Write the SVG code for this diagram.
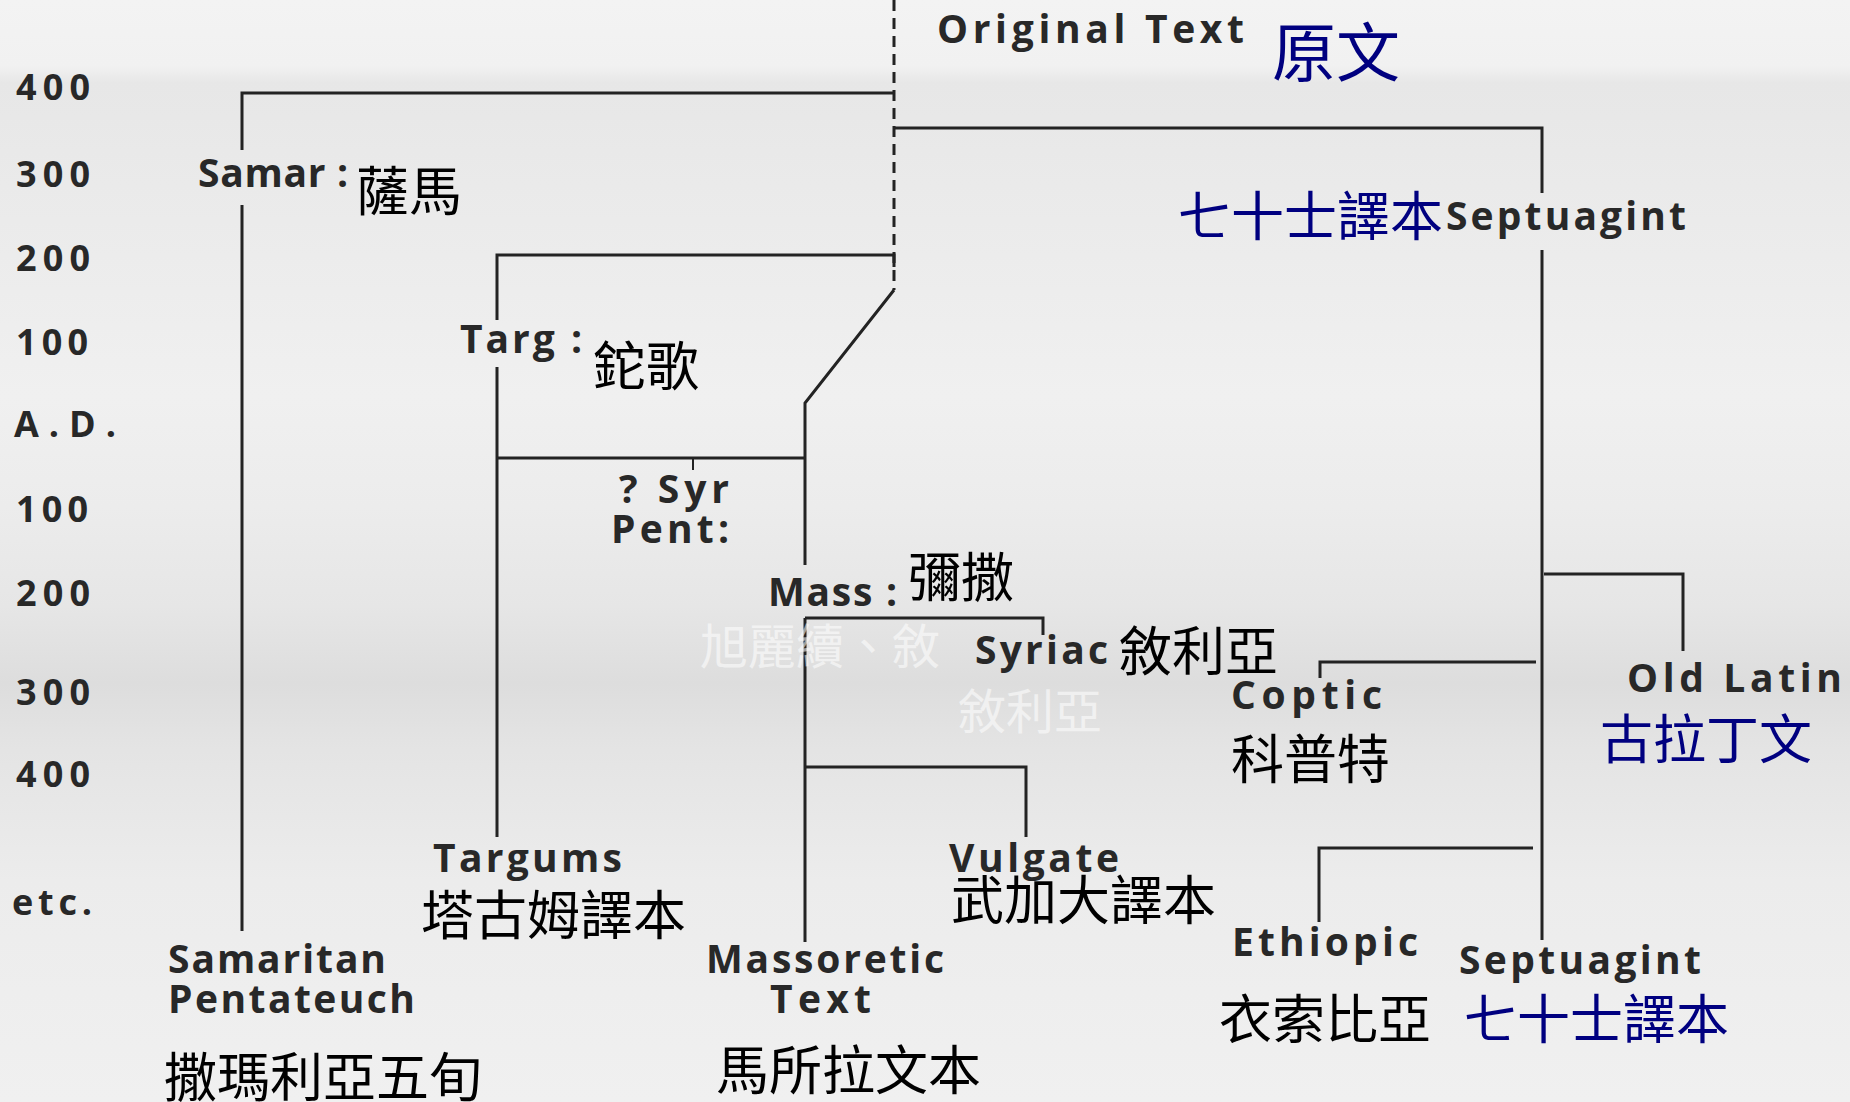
<svg xmlns="http://www.w3.org/2000/svg" width="1850" height="1102" viewBox="0 0 1850 1102">
  <defs>
    <linearGradient id="bg" x1="0" y1="0" x2="0" y2="1">
      <stop offset="0" stop-color="#f3f3f3"/>
      <stop offset="0.06" stop-color="#f1f1f1"/>
      <stop offset="0.075" stop-color="#e7e7e7"/>
      <stop offset="0.2" stop-color="#ebebeb"/>
      <stop offset="0.36" stop-color="#f0f0f0"/>
      <stop offset="0.46" stop-color="#ececec"/>
      <stop offset="0.55" stop-color="#e6e6e6"/>
      <stop offset="0.62" stop-color="#dddddd"/>
      <stop offset="0.68" stop-color="#e4e4e4"/>
      <stop offset="0.8" stop-color="#ececec"/>
      <stop offset="1" stop-color="#f0f0f0"/>
    </linearGradient>
    <style>
      .en { font-family: "Open Sans", Lato, "Liberation Sans", sans-serif; font-weight: 700; font-size: 39px; fill: #282828; }
      .yr { font-family: "Open Sans", Lato, "Liberation Sans", sans-serif; font-weight: 700; font-size: 36px; fill: #282828; }
      .zh { font-family: "Noto Sans CJK TC", "Noto Sans CJK SC", sans-serif; font-size: 53px; fill: #000000; }
      .zhb { font-family: "Noto Sans CJK TC", "Noto Sans CJK SC", sans-serif; font-size: 53px; fill: #000080; }
      .wm { font-family: "Noto Sans CJK TC", "Noto Sans CJK SC", sans-serif; font-size: 48px; fill: #ffffff; opacity: 0.55; }
      .ln { fill: none; stroke: #232323; stroke-width: 3; }
      .dash { fill: none; stroke: #232323; stroke-width: 3; stroke-dasharray: 11 7; }
      .thin { fill: none; stroke: #232323; stroke-width: 2; }
    </style>
  </defs>

  <rect x="0" y="0" width="1850" height="1102" fill="url(#bg)"/>

  <g id="connectors">
    <path class="dash" d="M894 0 V290"/>
    <path class="ln" d="M894 93 H242 V150 M242 205 V931"/>
    <path class="ln" d="M894 128 H1542 V193 M1542 250 V940"/>
    <path class="ln" d="M894 267 V255 H497 V320 M497 367 V837"/>
    <path class="ln" d="M894 290 L805 403 V565 M805 618 V942"/>
    <path class="ln" d="M497 458 H805"/>
    <path class="thin" d="M693 458 V470"/>
    <path class="ln" d="M805 618 H1043 V635"/>
    <path class="ln" d="M805 767 H1026 V837"/>
    <path class="ln" d="M1536 662 H1320 V678"/>
    <path class="ln" d="M1533 848 H1319 V922"/>
    <path class="ln" d="M1544 574 H1683 V651"/>
  </g>

  <g id="axis">
    <text class="yr" x="16" y="100" textLength="74" lengthAdjust="spacing">400</text>
    <text class="yr" x="16" y="187" textLength="74" lengthAdjust="spacing">300</text>
    <text class="yr" x="16" y="271" textLength="74" lengthAdjust="spacing">200</text>
    <text class="yr" x="16" y="355" textLength="72" lengthAdjust="spacing">100</text>
    <text class="yr" x="14" y="437" textLength="102" lengthAdjust="spacing">A.D.</text>
    <text class="yr" x="16" y="522" textLength="72" lengthAdjust="spacing">100</text>
    <text class="yr" x="16" y="606" textLength="74" lengthAdjust="spacing">200</text>
    <text class="yr" x="16" y="705" textLength="74" lengthAdjust="spacing">300</text>
    <text class="yr" x="16" y="787" textLength="74" lengthAdjust="spacing">400</text>
    <text class="yr" x="12" y="915" textLength="80" lengthAdjust="spacing">etc.</text>
  </g>

  <g id="original-text">
    <text class="en" x="937" y="43" textLength="307" lengthAdjust="spacing">Original Text</text>
    <text class="zhb" x="1272" y="76" style="font-size:64px">原文</text>
  </g>

  <g id="samaritan">
    <text class="en" x="198" y="187" textLength="150" lengthAdjust="spacing">Samar :</text>
    <text class="zh" x="356" y="211">薩馬</text>
    <text class="en" x="168" y="973" textLength="218" lengthAdjust="spacing">Samaritan</text>
    <text class="en" x="168" y="1013" textLength="247" lengthAdjust="spacing">Pentateuch</text>
    <text class="zh" x="164" y="1097">撒瑪利亞五旬</text>
  </g>

  <g id="targums">
    <text class="en" x="460" y="353" textLength="122" lengthAdjust="spacing">Targ :</text>
    <text class="zh" x="593" y="386">鉈歌</text>
    <text class="en" x="433" y="872" textLength="189" lengthAdjust="spacing">Targums</text>
    <text class="zh" x="421" y="935">塔古姆譯本</text>
  </g>

  <g id="syr-pent">
    <text class="en" x="619" y="503" textLength="110" lengthAdjust="spacing">? Syr</text>
    <text class="en" x="611" y="543" textLength="118" lengthAdjust="spacing">Pent:</text>
  </g>

  <g id="massoretic">
    <text class="en" x="768" y="606" textLength="129" lengthAdjust="spacing">Mass :</text>
    <text class="zh" x="908" y="597">彌撒</text>
    <text class="en" x="706" y="973" textLength="238" lengthAdjust="spacing">Massoretic</text>
    <text class="en" x="770" y="1013" textLength="101" lengthAdjust="spacing">Text</text>
    <text class="zh" x="716" y="1090">馬所拉文本</text>
  </g>

  <g id="watermark">
    <text class="wm" x="700" y="664">旭麗續、敘</text>
    <text class="wm" x="958" y="729">敘利亞</text>
  </g>

  <g id="syriac">
    <text class="en" x="975" y="664" textLength="133" lengthAdjust="spacing">Syriac</text>
    <text class="zh" x="1119" y="671">敘利亞</text>
  </g>

  <g id="vulgate">
    <text class="en" x="949" y="872" textLength="170" lengthAdjust="spacing">Vulgate</text>
    <text class="zh" x="951" y="920">武加大譯本</text>
  </g>

  <g id="septuagint">
    <text class="zhb" x="1178" y="236">七十士譯本</text>
    <text class="en" x="1446" y="230" textLength="240" lengthAdjust="spacing">Septuagint</text>
    <text class="en" x="1459" y="974" textLength="242" lengthAdjust="spacing">Septuagint</text>
    <text class="zhb" x="1464" y="1039">七十士譯本</text>
  </g>

  <g id="coptic">
    <text class="en" x="1231" y="709" textLength="151" lengthAdjust="spacing">Coptic</text>
    <text class="zh" x="1231" y="779">科普特</text>
  </g>

  <g id="ethiopic">
    <text class="en" x="1232" y="956" textLength="186" lengthAdjust="spacing">Ethiopic</text>
    <text class="zh" x="1219" y="1039">衣索比亞</text>
  </g>

  <g id="old-latin">
    <text class="en" x="1627" y="692" textLength="215" lengthAdjust="spacing">Old Latin</text>
    <text class="zhb" x="1600" y="759">古拉丁文</text>
  </g>
</svg>
